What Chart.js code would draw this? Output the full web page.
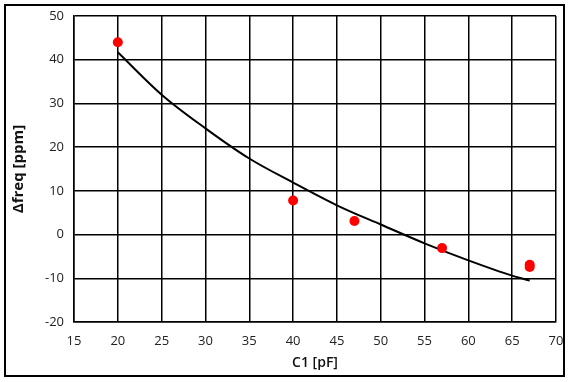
<!DOCTYPE html>
<html>
<head>
<meta charset="utf-8">
<script src="https://cdn.jsdelivr.net/npm/chart.js@4/dist/chart.umd.min.js"></script>
<style>
  html, body { margin: 0; padding: 0; background: #fff; }
  #wrap { position: relative; width: 571px; height: 382px; }
  #frame { position: absolute; left: 4px; top: 4px; width: 557px; height: 369px; border: 2px solid #000; pointer-events: none; }
  canvas { display: block; }
</style>
</head>
<body>
<div id="wrap">
  <canvas id="c" width="571" height="382"></canvas>
  <div id="frame"></div>
</div>
<script>
// Measured points
const measuredC1 = [20, 40, 47, 57, 67, 67];
const measuredFreq = [44, 7.8, 3.1, -3.1, -6.9, -7.4];
// Trend line
const trendC1 = [20, 25, 30, 35, 40, 45, 50, 55, 60, 65, 67];
const trendFreq = [41.7, 32.0, 24.3, 17.4, 11.9, 6.7, 2.3, -2.0, -5.9, -9.4, -10.5];
// Axes
const xTitle = 'C1 [pF]';
const yTitle = 'Δfreq [ppm]';
const xMin = 15, xMax = 70, xStep = 5;
const yMin = -20, yMax = 50, yStep = 10;

const FONT = '"Open Sans", "DejaVu Sans", sans-serif';

function zeroPad(s) { s.paddingLeft = 0; s.paddingRight = 0; s.paddingTop = 0; s.paddingBottom = 0; }

new Chart(document.getElementById('c'), {
  type: 'scatter',
  data: {
    datasets: [
      {
        label: 'trend',
        data: trendC1.map((x, i) => ({ x, y: trendFreq[i] })),
        showLine: true,
        borderColor: '#000',
        borderWidth: 2,
        pointRadius: 0,
        cubicInterpolationMode: 'monotone',
        fill: false,
        order: 2
      },
      {
        label: 'measured',
        data: measuredC1.map((x, i) => ({ x, y: measuredFreq[i] })),
        backgroundColor: '#ff0000',
        borderColor: '#ff0000',
        pointRadius: 5,
        pointBorderWidth: 0,
        showLine: false,
        order: 1
      }
    ]
  },
  options: {
    responsive: false,
    animation: false,
    devicePixelRatio: 1,
    layout: { padding: { left: 0, top: 16, right: 15, bottom: 0 } },
    plugins: { legend: { display: false }, tooltip: { enabled: false } },
    scales: {
      x: {
        type: 'linear',
        min: xMin, max: xMax,
        ticks: { stepSize: xStep, color: '#222', font: { family: FONT, size: 13 }, padding: 11 },
        grid: { color: '#000', lineWidth: 1.5, drawTicks: false },
        border: { color: '#000', width: 1.5 },
        title: { display: true, text: xTitle, color: '#111', font: { family: FONT, size: 14, weight: '600' }, padding: { top: 0, bottom: 11 } },
        afterFit: (s) => { s.height = 60; zeroPad(s); }
      },
      y: {
        type: 'linear',
        min: yMin, max: yMax,
        ticks: { stepSize: yStep, color: '#222', font: { family: FONT, size: 13 }, padding: 10 },
        grid: { color: '#000', lineWidth: 1.5, drawTicks: false },
        border: { color: '#000', width: 1.5 },
        title: { display: true, text: yTitle, color: '#111', font: { family: FONT, size: 15, weight: 'bold' }, padding: { top: 10, bottom: 0 } },
        afterFit: (s) => { s.width = 74; zeroPad(s); }
      }
    }
  }
});
</script>
</body>
</html>
